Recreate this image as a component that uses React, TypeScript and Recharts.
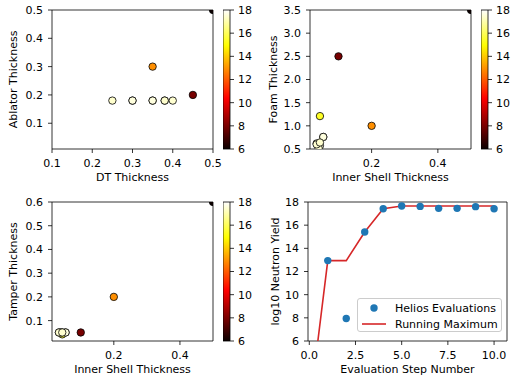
import {
  ScatterChart,
  Scatter,
  ComposedChart,
  Line,
  BarChart,
  Bar,
  XAxis,
  YAxis,
  ReferenceArea,
  Legend,
  Label,
} from "recharts";

// one entry per evaluation step (0..10)
const steps = [0, 1, 2, 3, 4, 5, 6, 7, 8, 9, 10];
const yields = [0, 12.94, 7.94, 15.41, 17.42, 17.65, 17.62, 17.45, 17.45, 17.6, 17.42];
const runningMax = [0, 12.94, 12.94, 15.41, 17.42, 17.65, 17.65, 17.65, 17.65, 17.65, 17.65];
const dtThickness = [0.5, 0.35, 0.45, 0.35, 0.25, 0.3, 0.35, 0.38, 0.4, 0.3, 0.38];
const ablatorThickness = [0.5, 0.3, 0.2, 0.18, 0.18, 0.18, 0.18, 0.18, 0.18, 0.18, 0.18];
const innerShellThickness = [0.5, 0.2, 0.1, 0.044, 0.054, 0.034, 0.044, 0.04, 0.034, 0.054, 0.044];
const foamThickness = [3.5, 1.0, 2.5, 1.21, 0.76, 0.62, 0.57, 0.52, 0.6, 0.76, 0.64];
const tamperThickness = [0.6, 0.2, 0.05, 0.042, 0.05, 0.05, 0.05, 0.05, 0.05, 0.05, 0.05];

const cbTicks = [6, 8, 10, 12, 14, 16, 18];
const yieldTicks = [6, 8, 10, 12, 14, 16, 18];
const stepTicks = [0, 2.5, 5, 7.5, 10];

const L = 52;
const T = 10;
const B = 36;
const R = 14;
const PH = 139;

const tickStyle = { fill: "#000", fontSize: 11 };
const tickLine = { stroke: "#000", strokeWidth: 0.8 };

// matplotlib "hot"
function hot(v: number) {
  const t = Math.min(1, Math.max(0, (v - 6) / 12));
  const r = t < 0.365 ? 0.0416 + (0.9584 * t) / 0.365 : 1;
  const g = t < 0.365 ? 0 : t < 0.746 ? (t - 0.365) / 0.381 : 1;
  const b = t < 0.746 ? 0 : (t - 0.746) / 0.254;
  const h = (c: number) => Math.round(c * 255);
  return `rgb(${h(r)},${h(g)},${h(b)})`;
}

const paramDot = (p: any) => (
  <circle cx={p.cx} cy={p.cy} r={3.7} fill={hot(p.payload.z)} stroke="#000" strokeWidth={0.8} />
);

const blueDot = (p: any) => <circle cx={p.cx} cy={p.cy} r={3.7} fill="#1f77b4" />;

function ParamPanel({
  left,
  top,
  xs,
  ys,
  xDomain,
  yDomain,
  xTicks,
  yTicks,
  xLabel,
  yLabel,
  labelGap,
}: {
  left: number;
  top: number;
  xs: number[];
  ys: number[];
  xDomain: [number, number];
  yDomain: [number, number];
  xTicks: number[];
  yTicks: number[];
  xLabel: string;
  yLabel: string;
  labelGap: number;
}) {
  const data = steps.map((i) => ({ x: xs[i], y: ys[i], z: yields[i] }));
  return (
    <div style={{ position: "absolute", left, top }}>
      <ScatterChart width={L + 161 + R} height={T + PH + B} margin={{ top: T, right: R, bottom: 0, left: 0 }}>
        <XAxis
          type="number"
          dataKey="x"
          domain={xDomain}
          ticks={xTicks}
          interval={0}
          allowDataOverflow
          axisLine={false}
          tickLine={tickLine}
          tickSize={4}
          tickMargin={6}
          tick={tickStyle}
          tickFormatter={(v) => v.toFixed(1)}
          height={B}
        >
          <Label value={xLabel} position="insideBottom" offset={4} fill="#000" fontSize={11} />
        </XAxis>
        <YAxis
          type="number"
          dataKey="y"
          domain={yDomain}
          ticks={yTicks}
          interval={0}
          allowDataOverflow
          axisLine={false}
          tickLine={tickLine}
          tickSize={4}
          tickMargin={5}
          tick={tickStyle}
          tickFormatter={(v) => v.toFixed(1)}
          width={L}
        >
          <Label
            value={yLabel}
            angle={-90}
            position="insideLeft"
            offset={L - labelGap}
            fill="#000"
            fontSize={11}
            style={{ textAnchor: "middle" }}
          />
        </YAxis>
        <Scatter data={data} shape={paramDot} isAnimationActive={false} />
        <ReferenceArea
          x1={xDomain[0]}
          x2={xDomain[1]}
          y1={yDomain[0]}
          y2={yDomain[1]}
          fill="none"
          stroke="#000"
          strokeWidth={0.8}
          ifOverflow="visible"
        />
      </ScatterChart>
    </div>
  );
}

function ColorBar({ left, top, id }: { left: number; top: number; id: string }) {
  return (
    <div style={{ position: "absolute", left, top }}>
      <BarChart
        width={7 + 30}
        height={T + PH + 10}
        data={[{ name: "cb", range: [cbTicks[0], cbTicks[cbTicks.length - 1]] }]}
        margin={{ top: T, right: 0, bottom: 10, left: 0 }}
        barCategoryGap={0}
      >
        <defs>
          <linearGradient id={id} x1="0" y1="1" x2="0" y2="0">
            <stop offset="0%" stopColor="#0b0000" />
            <stop offset="36.5%" stopColor="#ff0000" />
            <stop offset="74.6%" stopColor="#ffff00" />
            <stop offset="100%" stopColor="#ffffff" />
          </linearGradient>
        </defs>
        <XAxis dataKey="name" hide />
        <YAxis
          orientation="right"
          type="number"
          domain={[6, 18]}
          ticks={cbTicks}
          interval={0}
          axisLine={false}
          tickLine={tickLine}
          tickSize={4}
          tickMargin={4}
          tick={tickStyle}
          width={30}
        />
        <Bar dataKey="range" fill={`url(#${id})`} stroke="#000" strokeWidth={0.8} isAnimationActive={false} />
      </BarChart>
    </div>
  );
}

const LegendBox = (props: any) => {
  const items = props.payload || [];
  return (
    <div
      style={{
        width: 145,
        height: 34,
        boxSizing: "border-box",
        border: "1px solid #cccccc",
        borderRadius: 3,
        background: "rgba(255,255,255,0.8)",
        paddingTop: 1,
        paddingLeft: 3,
        fontSize: 11,
        color: "#000",
        fontFamily: "DejaVu Sans",
      }}
    >
      {items.map((it: any) => (
        <div key={it.value} style={{ display: "flex", alignItems: "center", height: 16 }}>
          <svg width={34} height={16} style={{ flex: "none" }}>
            {it.type === "line" ? (
              <line x1={1} y1={8} x2={25} y2={8} stroke={it.color} strokeWidth={1.6} />
            ) : (
              <circle cx={13} cy={8} r={3.7} fill={it.color} />
            )}
          </svg>
          <span style={{ whiteSpace: "nowrap" }}>{it.value}</span>
        </div>
      ))}
    </div>
  );
};

function YieldPanel({ left, top }: { left: number; top: number }) {
  const rows = steps.map((i) => ({ step: i, yieldVal: yields[i], best: runningMax[i] }));
  const xDomain: [number, number] = [-0.07, 10.7];
  const yDomain: [number, number] = [6, 18];
  return (
    <div style={{ position: "absolute", left, top }}>
      <ComposedChart width={L + 199 + 4} height={T + PH + B} data={rows} margin={{ top: T, right: 4, bottom: 0, left: 0 }}>
        <XAxis
          type="number"
          dataKey="step"
          domain={xDomain}
          ticks={stepTicks}
          interval={0}
          allowDataOverflow
          axisLine={false}
          tickLine={tickLine}
          tickSize={4}
          tickMargin={6}
          tick={tickStyle}
          tickFormatter={(v) => v.toFixed(1)}
          height={B}
        >
          <Label value="Evaluation Step Number" position="insideBottom" offset={4} fill="#000" fontSize={11} />
        </XAxis>
        <YAxis
          type="number"
          domain={yDomain}
          ticks={yieldTicks}
          interval={0}
          allowDataOverflow
          axisLine={false}
          tickLine={tickLine}
          tickSize={4}
          tickMargin={5}
          tick={tickStyle}
          width={L}
        >
          <Label
            value="log10 Neutron Yield"
            angle={-90}
            position="insideLeft"
            offset={L - 33}
            fill="#000"
            fontSize={11}
            style={{ textAnchor: "middle" }}
          />
        </YAxis>
        <Scatter name="Helios Evaluations" dataKey="yieldVal" fill="#1f77b4" shape={blueDot} legendType="circle" isAnimationActive={false} />
        <Line
          name="Running Maximum"
          type="linear"
          dataKey="best"
          stroke="#d62728"
          strokeWidth={1.6}
          dot={false}
          legendType="line"
          isAnimationActive={false}
        />
        <ReferenceArea
          x1={xDomain[0]}
          x2={xDomain[1]}
          y1={yDomain[0]}
          y2={yDomain[1]}
          fill="none"
          stroke="#000"
          strokeWidth={0.8}
          ifOverflow="visible"
        />
        <Legend
          layout="horizontal"
          verticalAlign="middle"
          align="center"
          wrapperStyle={{ left: 101, top: 106, width: 145, height: 34 }}
          content={LegendBox}
        />
      </ComposedChart>
    </div>
  );
}

export default function App() {
  return (
    <div
      style={{
        position: "absolute",
        left: 0,
        top: 0,
        width: 513,
        height: 376,
        background: "#fff",
        fontFamily: "DejaVu Sans",
        overflow: "hidden",
      }}
    >
      <ParamPanel
        left={0}
        top={0}
        xs={dtThickness}
        ys={ablatorThickness}
        xDomain={[0.1, 0.5]}
        yDomain={[0.009, 0.5]}
        xTicks={[0.1, 0.2, 0.3, 0.4, 0.5]}
        yTicks={[0.1, 0.2, 0.3, 0.4, 0.5]}
        xLabel="DT Thickness"
        yLabel="Ablator Thickness"
        labelGap={39}
      />
      <ColorBar left={223} top={0} id="hotA" />
      <ParamPanel
        left={258}
        top={0}
        xs={innerShellThickness}
        ys={foamThickness}
        xDomain={[0.014, 0.5]}
        yDomain={[0.5, 3.5]}
        xTicks={[0.2, 0.4]}
        yTicks={[0.5, 1.0, 1.5, 2.0, 2.5, 3.0, 3.5]}
        xLabel="Inner Shell Thickness"
        yLabel="Foam Thickness"
        labelGap={37}
      />
      <ColorBar left={481} top={0} id="hotB" />
      <ParamPanel
        left={0}
        top={192}
        xs={innerShellThickness}
        ys={tamperThickness}
        xDomain={[0.013, 0.5]}
        yDomain={[0.014, 0.6]}
        xTicks={[0.2, 0.4]}
        yTicks={[0.1, 0.2, 0.3, 0.4, 0.5, 0.6]}
        xLabel="Inner Shell Thickness"
        yLabel="Tamper Thickness"
        labelGap={39}
      />
      <ColorBar left={223} top={192} id="hotC" />
      <YieldPanel left={256} top={192} />
    </div>
  );
}
